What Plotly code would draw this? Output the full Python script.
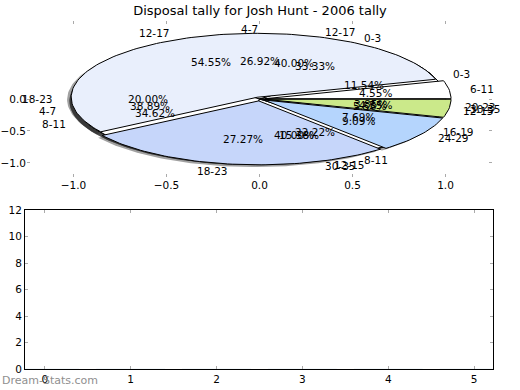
import numpy as np
import plotly.graph_objects as go

TITLE = "Disposal tally for Josh Hunt - 2006 tally"
WATERMARK = "Dream-Stats.com"

# Pies, drawn bottom to top (counts per disposal range)
pie_d_labels = ["0-3", "4-7", "8-11", "12-15"]
pie_d_values = [6, 7, 4, 1]
pie_c_labels = ["12-17", "18-23", "30-35"]
pie_c_values = [2, 1, 2]
pie_b_labels = ["0-3", "4-7", "8-11", "12-15", "16-19", "20-23"]
pie_b_values = [3, 7, 9, 4, 2, 1]
pie_a_labels = ["6-11", "12-17", "18-23", "24-29", "30-35"]
pie_a_values = [1, 12, 6, 2, 1]

pie_a_colors = ["#ffffff", "#e9effc", "#c6d6fa", "#b5d5fd", "#cbe98a"]
under_color = "#ffffff"

pie_xticks = [-1.0, -0.5, 0.0, 0.5, 1.0]
pie_xticktext = ["\u22121.0", "\u22120.5", "0.0", "0.5", "1.0"]
pie_yticks = [-1.0, -0.5, 0.0]
pie_yticktext = ["\u22121.0", "\u22120.5", "0.0"]

bar_categories = [0, 1, 2, 3, 4, 5]
bar_values = [0, 0, 0, 0, 0, 0]
bar_yticks = [0, 2, 4, 6, 8, 10, 12]

W, H = 520, 390
FONT = "DejaVu Sans"


def fx(px):
    return px / W


def fy(py):
    return 1 - py / H


def wedges(values, explode):
    vals = np.asarray(values, dtype=float)
    frac = vals / vals.sum()
    edges = np.concatenate([[0.0], np.cumsum(frac)]) * 360.0
    out = []
    for i in range(len(vals)):
        t1, t2 = edges[i], edges[i + 1]
        mid = np.deg2rad((t1 + t2) / 2)
        cx, cy = explode * np.cos(mid), explode * np.sin(mid)
        th = np.deg2rad(np.linspace(t1, t2, max(int((t2 - t1) / 1.5) + 2, 3)))
        xs = np.concatenate([[cx], cx + np.cos(th), [cx]])
        ys = np.concatenate([[cy], cy + np.sin(th), [cy]])
        out.append((xs, ys, cx, cy, mid, frac[i]))
    return out


fig = go.Figure()

pies = [
    (pie_d_labels, pie_d_values, None, 0.0),
    (pie_c_labels, pie_c_values, None, 0.0),
    (pie_b_labels, pie_b_values, None, 0.0),
    (pie_a_labels, pie_a_values, pie_a_colors, 0.03),
]

# shadows (below all wedges)
for labels, values, colors, ex in pies:
    for xs, ys, cx, cy, mid, f in wedges(values, ex):
        fig.add_trace(go.Scatter(
            x=xs - 0.022, y=ys - 0.035, mode="lines", fill="toself",
            fillcolor="rgba(30,30,30,0.42)", line=dict(width=0),
            hoverinfo="skip", showlegend=False, xaxis="x", yaxis="y"))

annotations = []
for labels, values, colors, ex in pies:
    for i, (xs, ys, cx, cy, mid, f) in enumerate(wedges(values, ex)):
        col = colors[i] if colors else under_color
        fig.add_trace(go.Scatter(
            x=xs, y=ys, mode="lines", fill="toself", fillcolor=col,
            line=dict(color="black", width=1),
            hoverinfo="skip", showlegend=False, xaxis="x", yaxis="y"))
        lx, ly = cx + 1.1 * np.cos(mid), cy + 1.1 * np.sin(mid)
        annotations.append(dict(
            x=lx, y=ly, xref="x", yref="y", text=labels[i], showarrow=False,
            xanchor="left" if lx > 1e-9 else "right", yanchor="middle",
            font=dict(family=FONT, size=10.5, color="black")))
        px, py = cx + 0.6 * np.cos(mid), cy + 0.6 * np.sin(mid)
        annotations.append(dict(
            x=px, y=py, xref="x", yref="y", text="%.2f%%" % (f * 100),
            showarrow=False, xanchor="center", yanchor="middle",
            font=dict(family=FONT, size=10.5, color="black")))

fig.add_trace(go.Bar(x=bar_categories, y=bar_values, xaxis="x2", yaxis="y2",
                     marker_color="#b5d5fd", showlegend=False, hoverinfo="skip"))

annotations.append(dict(
    x=0.0, y=fy(380), xref="paper", yref="paper", text=WATERMARK,
    showarrow=False, xanchor="left", yanchor="middle",
    font=dict(family=FONT, size=11, color="#8f8f8f")))

tickfont = dict(family=FONT, size=10.5, color="black")

fig.update_layout(
    width=W, height=H,
    margin=dict(l=0, r=0, t=0, b=0, autoexpand=False),
    paper_bgcolor="white", plot_bgcolor="white",
    title=dict(text=TITLE, x=fx(260), xanchor="center", y=fy(10), yanchor="middle",
               font=dict(family=FONT, size=13, color="black")),
    xaxis=dict(domain=[fx(27), fx(492)], range=[-1.25, 1.25], anchor="y",
               tickvals=pie_xticks, ticktext=pie_xticktext, showgrid=False,
               zeroline=False, showline=False, ticks="inside", ticklen=3,
               tickcolor="#aaaaaa", mirror="ticks", tickfont=tickfont,
               automargin=False),
    yaxis=dict(domain=[fy(177), fy(21)], range=[-1.22, 1.22], anchor="x",
               tickvals=pie_yticks, ticktext=pie_yticktext, showgrid=False,
               zeroline=False, showline=False, ticks="inside", ticklen=3,
               tickcolor="#aaaaaa", mirror="ticks", tickfont=tickfont,
               automargin=False),
    xaxis2=dict(domain=[fx(25), fx(493)], range=[-0.23, 5.22], anchor="y2",
                tickvals=bar_categories, showgrid=False, zeroline=False,
                showline=True, linecolor="black", linewidth=1, mirror="ticks",
                ticks="inside", ticklen=3, tickcolor="#aaaaaa", tickfont=tickfont,
                automargin=False),
    yaxis2=dict(domain=[fy(369), fy(210)], range=[0, 12], anchor="x2",
                tickvals=bar_yticks, showgrid=False, zeroline=False,
                showline=True, linecolor="black", linewidth=1, mirror="ticks",
                ticks="inside", ticklen=3, tickcolor="#aaaaaa", tickfont=tickfont,
                automargin=False),
    annotations=annotations,
)

fig.write_html("out.html",
               config={"displayModeBar": False},
               post_script="document.body.style.margin='0';"
                           "document.body.style.overflow='hidden';")
